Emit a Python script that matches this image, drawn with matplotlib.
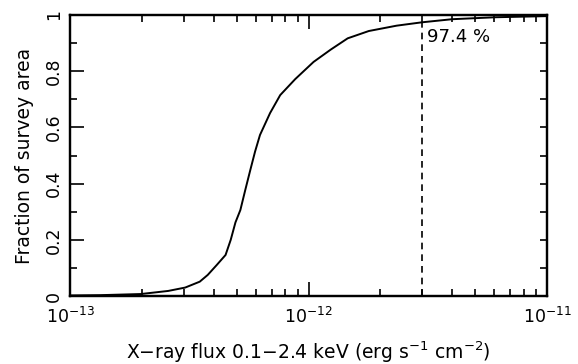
import numpy as np
import matplotlib
matplotlib.use("Agg")
import matplotlib.pyplot as plt
from matplotlib.ticker import FixedLocator, NullFormatter

plt.rcParams["font.family"] = ["DejaVu Sans"]
plt.rcParams["mathtext.fontset"] = "dejavusans"

# cumulative sky coverage vs. flux limit
flux = [1.00e-13, 1.34e-13, 1.98e-13, 2.58e-13, 3.04e-13, 3.50e-13,
        3.78e-13, 4.12e-13, 4.49e-13, 4.72e-13, 4.94e-13, 5.18e-13,
        5.43e-13, 5.70e-13, 5.97e-13, 6.26e-13, 6.90e-13, 7.61e-13,
        8.80e-13, 1.05e-12, 1.24e-12, 1.46e-12, 1.79e-12, 2.34e-12,
        2.99e-12, 4.00e-12, 6.09e-12, 1.00e-11]
area = [0.002, 0.003, 0.007, 0.018, 0.030, 0.051,
        0.075, 0.110, 0.146, 0.200, 0.262, 0.306,
        0.377, 0.448, 0.514, 0.573, 0.651, 0.715,
        0.772, 0.833, 0.877, 0.917, 0.943, 0.962,
        0.974, 0.985, 0.992, 0.996]

xticks = [1e-13, 1e-12, 1e-11]
xtick_labels = [r"$10^{-13}$", r"$10^{-12}$", r"$10^{-11}$"]
yticks = [0, 0.2, 0.4, 0.6, 0.8, 1]
ytick_labels = ["0", "0.2", "0.4", "0.6", "0.8", "1"]

limit_flux = 3.0e-12
limit_frac = 0.974

fig = plt.figure(figsize=(5.78, 3.64), dpi=100)
ax = fig.add_axes([70 / 578, 68 / 364, 477 / 578, 281 / 364])

ax.plot(flux, area, color="black", lw=1.4)
ax.plot([limit_flux, limit_flux], [0, limit_frac], color="black",
        lw=1.2, ls=(0, (4, 3)))
ax.text(limit_flux * 1.05, 0.92, "97.4 %", fontsize=13, va="center",
        ha="left")

ax.set_xscale("log")
ax.set_xlim(1e-13, 1e-11)
ax.set_ylim(0, 1)

ax.set_xticks(xticks)
ax.set_xticklabels(xtick_labels)
minor = [m * d for d in (1e-13, 1e-12) for m in range(2, 10)]
ax.xaxis.set_minor_locator(FixedLocator(minor))
ax.xaxis.set_minor_formatter(NullFormatter())

ax.set_yticks(yticks)
ax.set_yticklabels(ytick_labels, rotation=90, va="center")
ax.yaxis.set_minor_locator(FixedLocator([0.1, 0.3, 0.5, 0.7, 0.9]))

ax.tick_params(which="both", direction="in", top=True, right=False,
               labelsize=12.5, width=1.2)
ax.tick_params(which="major", length=10, pad=5)
ax.tick_params(axis="x", which="major", pad=8)
ax.tick_params(which="minor", length=5)

# short ticks on the right edge, no labels
rax = ax.twinx()
rax.set_ylim(0, 1)
rax.set_yticks(np.arange(0, 1.01, 0.1))
rax.tick_params(direction="in", length=5, width=1.2, labelright=False)

for a in (ax, rax):
    for s in a.spines.values():
        s.set_linewidth(1.6)

ax.set_xlabel("X\u2212ray flux 0.1\u22122.4 keV (erg s$^{-1}$ cm$^{-2}$)",
              fontsize=13.5, labelpad=9)
ax.set_ylabel("Fraction of survey area", fontsize=13.5, labelpad=8)

fig.savefig("out.png", dpi=100)
